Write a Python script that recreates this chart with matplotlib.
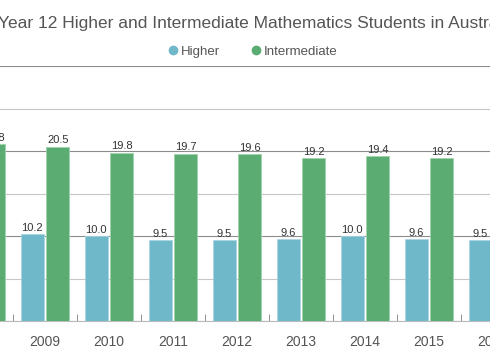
import numpy as np
import matplotlib
matplotlib.use("Agg")
import matplotlib.pyplot as plt
from matplotlib.lines import Line2D
from matplotlib.ticker import MultipleLocator

plt.rc('font', family='Liberation Sans')

years = ['2008', '2009', '2010', '2011', '2012', '2013', '2014', '2015', '2016']
higher = [np.nan, 10.2, 10.0, 9.5, 9.5, 9.6, 10.0, 9.6, 9.5]
intermediate = [20.8, 20.5, 19.8, 19.7, 19.6, 19.2, 19.4, 19.2, np.nan]

c_high = '#6fb8c9'
c_int = '#5aac72'

fig = plt.figure(figsize=(4.9, 3.6), dpi=100)
ax = fig.add_axes([0.0, 0.1083, 1.0, 0.7083])

x = np.arange(len(years))
w = 0.36
b1 = ax.bar(x - 0.2, higher, w, color=c_high, edgecolor='#a9d6e1', linewidth=0.6, zorder=3)
b2 = ax.bar(x + 0.2, intermediate, w, color=c_int, edgecolor='#9fd3ac', linewidth=0.6, zorder=3)

for bars, vals in ((b1, higher), (b2, intermediate)):
    for r, v in zip(bars, vals):
        if np.isnan(v):
            continue
        ax.text(r.get_x() + r.get_width() / 2, v + 0.15, f'{v:.1f}', ha='center', va='bottom',
                fontsize=8, color='#333333', zorder=4)

ax.set_xticks(x)
ax.set_xticklabels(years)
ax.set_xticks(x + 0.5, minor=True)
ax.set_xlim(0.297, 7.953)
ax.set_ylim(0, 30)
ax.tick_params(axis='x', which='major', length=0, pad=10, labelsize=10, labelcolor='#555555')
ax.tick_params(axis='x', which='minor', direction='in', length=5, color='#999999', width=0.8)
ax.set_yticks([10, 20, 30])
ax.yaxis.set_minor_locator(MultipleLocator(5))
ax.tick_params(axis='y', which='both', length=0, labelleft=False)
ax.grid(axis='y', which='major', color='#8c8c8c', linewidth=0.8, zorder=0)
ax.grid(axis='y', which='minor', color='#c8c8c8', linewidth=0.8, zorder=0)
for s in ('top', 'left', 'right'):
    ax.spines[s].set_visible(False)
ax.spines['bottom'].set_color('#bbbbbb')
ax.spines['bottom'].set_linewidth(0.8)

# category labels whose tick sits just outside the visible range
for i in range(len(years)):
    if not (ax.get_xlim()[0] <= x[i] <= ax.get_xlim()[1]):
        ax.annotate(years[i], xy=(x[i], 0), xycoords=('data', 'axes fraction'),
                    xytext=(0, -10), textcoords='offset points', ha='center', va='top',
                    fontsize=10, color='#555555', annotation_clip=False)

fig.text(-0.004, 0.936, 'Year 12 Higher and Intermediate Mathematics Students in Australia',
         ha='left', va='center', fontsize=12.5, color='#555555')

handles = [Line2D([], [], marker='o', linestyle='', markersize=6, color=c_high),
           Line2D([], [], marker='o', linestyle='', markersize=6, color=c_int)]
fig.legend(handles, ['Higher', 'Intermediate'], loc='center', bbox_to_anchor=(0.514, 0.856),
           ncol=2, frameon=False, fontsize=9.5, handletextpad=0.1, columnspacing=2.2,
           labelcolor='#555555', handlelength=1.0)

fig.savefig('out.png', dpi=100)
